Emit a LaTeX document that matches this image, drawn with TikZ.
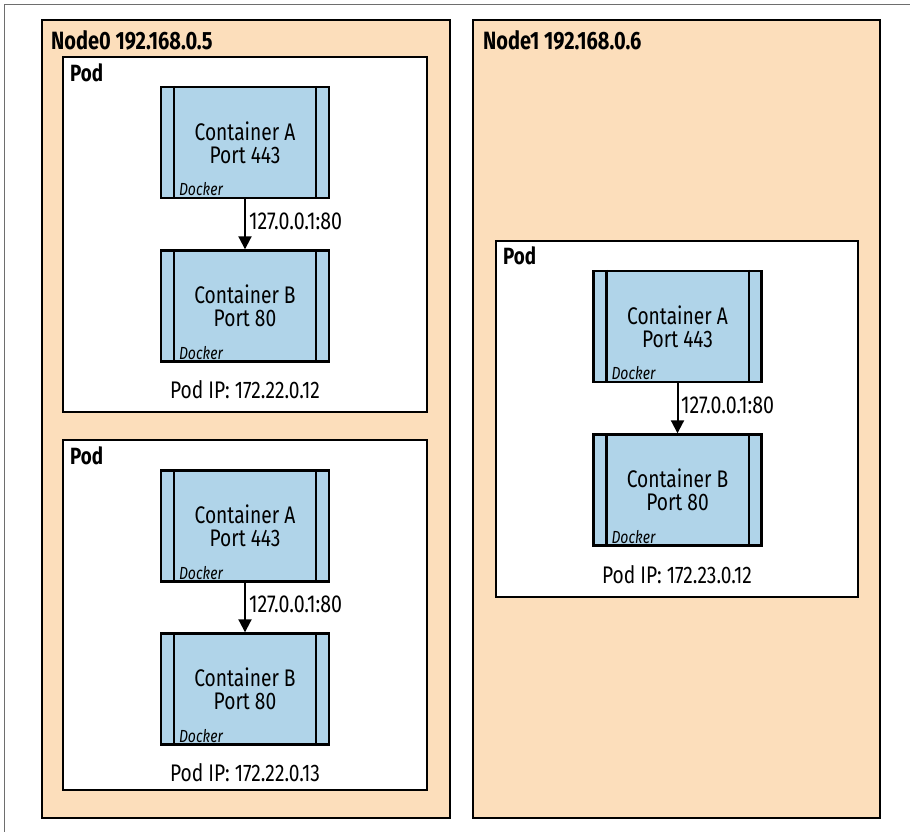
\documentclass[tikz,border=0pt]{standalone}
\usepackage{fontspec}
\setmainfont{Fira Sans}[FakeStretch=0.8]
\usetikzlibrary{arrows.meta}
\definecolor{nodefill}{RGB}{252,222,187}
\definecolor{ctrfill}{RGB}{176,212,233}
\definecolor{framegray}{RGB}{110,110,110}
\tikzset{
  hostbox/.style={draw=black, fill=nodefill, line width=2pt},
  podbox/.style={draw=black, fill=white, line width=2pt},
  ctrbox/.style={draw=black, fill=ctrfill, line width=2.4pt, minimum width=168pt,
    minimum height=111pt, inner sep=0pt, align=center, font=\fontsize{24}{23}\selectfont},
  hosttitle/.style={anchor=west, inner sep=0pt, font=\fontsize{25}{28}\selectfont\bfseries},
  podtitle/.style={anchor=west, inner sep=0pt, font=\fontsize{23.5}{26}\selectfont\bfseries},
  dockerlbl/.style={anchor=south west, inner sep=0pt, font=\fontsize{17.5}{19}\selectfont\itshape},
  iplbl/.style={inner sep=0pt, font=\fontsize{24}{26}\selectfont},
  linklbl/.style={anchor=west, inner sep=0pt, font=\fontsize{24.5}{26}\selectfont},
  link/.style={draw=black, line width=2pt, -{Triangle[length=13pt,width=13pt]}}
}
% container with side stripes and a Docker tag
\newcommand\ctrdraw[4]{%
  \node[ctrbox] (#1) at (#2) {#3\\#4};
  \draw[line width=2.4pt] ([xshift=14pt]#1.north west) -- ([xshift=14pt]#1.south west);
  \draw[line width=2.4pt] ([xshift=-14pt]#1.north east) -- ([xshift=-14pt]#1.south east);
  \node[dockerlbl] (#1-tag) at ([xshift=19pt,yshift=3pt]#1.south west) {Docker};
}
\begin{document}
\begin{tikzpicture}[x=1pt, y=-1pt]
\useasboundingbox (0,0) rectangle (910,832);
% outer frame
\draw[framegray, line width=1pt] (4,832) -- (4,5) -- (910,5);

% hosts
\draw[hostbox] (42,20) rectangle (450,818);
\node[hosttitle] (n0) at (51,40) {Node0 192.168.0.5};
\draw[hostbox] (473,20) rectangle (880,818);
\node[hosttitle] (n1) at (483,40) {Node1 192.168.0.6};

% pods on Node0
\draw[podbox] (63,57) rectangle (427,412);
\node[podtitle] (p1) at (70,73) {Pod};
\ctrdraw{a1}{245,142.5}{Container A}{Port 443}
\ctrdraw{b1}{245,306}{Container B}{Port 80}
\draw[link] (a1) -- (b1);
\node[linklbl] (l1) at (249,221) {127.0.0.1:80};
\node[iplbl] (ip1) at (245,390) {Pod IP: 172.22.0.12};

\draw[podbox] (63,440) rectangle (427,790);
\node[podtitle] (p2) at (70,456) {Pod};
\ctrdraw{a2}{245,526}{Container A}{Port 443}
\ctrdraw{b2}{245,689}{Container B}{Port 80}
\draw[link] (a2) -- (b2);
\node[linklbl] (l2) at (249,604) {127.0.0.1:80};
\node[iplbl] (ip2) at (245,773) {Pod IP: 172.22.0.13};

% pod on Node1
\draw[podbox] (496,241) rectangle (858,597);
\node[podtitle] (p3) at (503,256) {Pod};
\ctrdraw{a3}{677.5,326.5}{Container A}{Port 443}
\ctrdraw{b3}{677.5,490}{Container B}{Port 80}
\draw[link] (a3) -- (b3);
\node[linklbl] (l3) at (681,405) {127.0.0.1:80};
\node[iplbl] (ip3) at (677,575) {Pod IP: 172.23.0.12};
\end{tikzpicture}
\end{document}
